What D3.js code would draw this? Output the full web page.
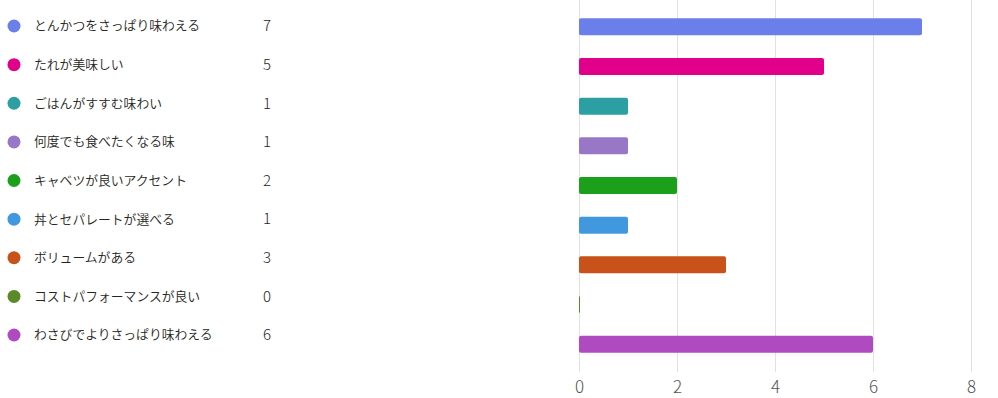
<!DOCTYPE html>
<html lang="ja">
  <head>
    <meta charset="UTF-8">
    <title>Responses</title>
    <script src="https://d3js.org/d3.v7.min.js"></script>
    <style>
      * { margin: 0; padding: 0; }
      body { background: #fff; }
      body > svg { display: block; }
    </style>
  </head>
  <body>
    <script>
      var categories = [
        "とんかつをさっぱり味わえる",
        "たれが美味しい",
        "ごはんがすすむ味わい",
        "何度でも食べたくなる味",
        "キャベツが良いアクセント",
        "丼とセパレートが選べる",
        "ボリュームがある",
        "コストパフォーマンスが良い",
        "わさびでよりさっぱり味わえる"
      ];
      var counts = [7, 5, 1, 1, 2, 1, 3, 0, 6];
      var colors = ["#6a7fea", "#e0008a", "#2c9fa3", "#9878c6", "#1ca01c",
                    "#4198de", "#c8521a", "#5a8a28", "#b04ac0"];
      var tickValues = [0, 2, 4, 6, 8];

      var width = 998, height = 398;
      var font = "'Noto Sans CJK JP', 'Noto Sans', sans-serif";

      var svg = d3.select("body").append("svg")
        .attr("width", width)
        .attr("height", height);

      // legend on the left
      var legendY = d3.scalePoint()
        .domain(categories)
        .range([26, 335]);

      var legend = svg.append("g").selectAll("g")
        .data(categories)
        .enter().append("g")
        .attr("transform", function (d) { return "translate(0," + legendY(d) + ")"; });

      legend.append("circle")
        .attr("cx", 14)
        .attr("r", 6.5)
        .attr("fill", function (d, i) { return colors[i]; });

      legend.append("text")
        .attr("x", 34)
        .attr("dy", "0.35em")
        .attr("font-family", font)
        .attr("font-size", 12.8)
        .attr("font-weight", 350)
        .attr("fill", "#252423")
        .text(function (d) { return d; });

      legend.append("text")
        .attr("x", 267)
        .attr("dy", "0.35em")
        .attr("text-anchor", "middle")
        .attr("font-family", font)
        .attr("font-size", 15)
        .attr("font-weight", 300)
        .attr("fill", "#252423")
        .text(function (d, i) { return counts[i]; });

      // bar chart on the right
      var x = d3.scaleLinear()
        .domain([0, 8])
        .range([579, 971]);

      var y = d3.scaleBand()
        .domain(categories)
        .range([7, 364])
        .paddingInner(0.57)
        .paddingOuter(0.285);

      svg.append("g").selectAll("line")
        .data(tickValues)
        .enter().append("line")
        .attr("x1", function (d) { return x(d) + 0.5; })
        .attr("x2", function (d) { return x(d) + 0.5; })
        .attr("y1", 0)
        .attr("y2", 372)
        .attr("stroke", "#e1e1e1")
        .attr("stroke-width", 1);

      var axis = svg.append("g")
        .attr("transform", "translate(0,373)")
        .call(d3.axisBottom(x).tickValues(tickValues).tickSize(0).tickPadding(8));
      axis.select(".domain").remove();
      axis.selectAll("text")
        .attr("font-family", font)
        .attr("font-size", 17)
        .attr("font-weight", 300)
        .attr("fill", "#555");

      svg.append("g").selectAll("rect")
        .data(categories)
        .enter().append("rect")
        .attr("x", x(0))
        .attr("y", function (d) { return y(d); })
        .attr("width", function (d, i) { return Math.max(x(counts[i]) - x(0), 1); })
        .attr("height", y.bandwidth())
        .attr("rx", 2)
        .attr("fill", function (d, i) { return colors[i]; });
    </script>
  </body>
</html>
